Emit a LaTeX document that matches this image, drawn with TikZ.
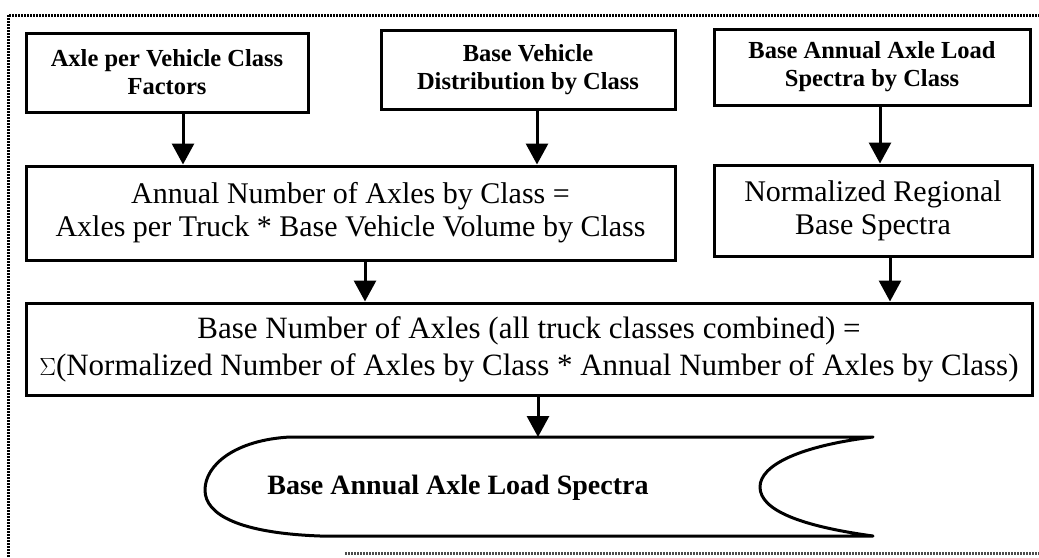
\documentclass[tikz,border=0pt]{standalone}
\usepackage{fontspec}
\setmainfont{Liberation Serif}
\usetikzlibrary{arrows.meta}
\begin{document}
\begin{tikzpicture}[x=1pt,y=-1pt,
  box/.style={draw, line width=3pt, align=center, inner sep=0pt},
  boldtxt/.style={font=\fontsize{24.5}{28}\selectfont\bfseries},
  regtxt/.style={font=\fontsize{30}{33}\selectfont},
  widetxt/.style={font=\fontsize{31}{37}\selectfont},
  bigtxt/.style={font=\fontsize{28}{32}\selectfont\bfseries},
  arr/.style={line width=3pt, -{Triangle[width=22pt,length=21pt]}},
  frame/.style={line width=3pt, dash pattern=on 2pt off 1pt}]
\useasboundingbox (0,0) rectangle (1039,557);
% dotted frame
\draw[frame] (8,557) -- (8,15) -- (1039,15);
\draw[frame, black!70] (345,553) -- (1039,553);
% boxes
\node[box, boldtxt, minimum width=282pt, minimum height=79pt] (b1) at (167,72.5) {Axle per Vehicle Class\\Factors};
\node[box, boldtxt, minimum width=294pt, minimum height=79pt] (b2) at (528,69.5) {Base Vehicle\\Distribution by Class};
\node[box, boldtxt, minimum width=316pt, minimum height=76pt] (b3) at (872,67) {Base Annual Axle Load\\Spectra by Class};
\node[box, regtxt, minimum width=649pt, minimum height=94pt] (b4) at (350.5,213) {Annual Number of Axles by Class =\\Axles per Truck * Base Vehicle Volume by Class};
\node[box, regtxt, minimum width=318pt, minimum height=91pt] (b5) at (873,210.5) {Normalized Regional\\Base Spectra};
\node[box, widetxt, minimum width=1006pt, minimum height=92pt] (b6) at (529,349) {Base Number of Axles (all truck classes combined) =\\$\Sigma$(Normalized Number of Axles by Class * Annual Number of Axles by Class)};
% output shape (stored data)
\draw[line width=3pt, line join=round]
  (873,437) -- (290,437)
  .. controls (235,440) and (205,465) .. (205,490)
  .. controls (205,515) and (240,533) .. (320,536)
  -- (873,536)
  .. controls (800,526) and (760,510) .. (760,487)
  .. controls (760,465) and (800,446) .. (873,437) -- cycle;
\node[bigtxt] (out) at (458,488) {Base Annual Axle Load Spectra};
\coordinate (outtop) at (538,437);
% arrow x positions
\coordinate (x1) at (183,0);
\coordinate (x2) at (537,0);
\coordinate (x3) at (880,0);
\coordinate (x4) at (365,0);
\coordinate (x5) at (890,0);
\coordinate (x6) at (538,0);
\draw[arr] (b1.south -| x1) -- (b4.north -| x1);
\draw[arr] (b2.south -| x2) -- (b4.north -| x2);
\draw[arr] (b3.south -| x3) -- (b5.north -| x3);
\draw[arr] (b4.south -| x4) -- (b6.north -| x4);
\draw[arr] (b5.south -| x5) -- (b6.north -| x5);
\draw[arr] (b6.south -| x6) -- (outtop);
\end{tikzpicture}
\end{document}
